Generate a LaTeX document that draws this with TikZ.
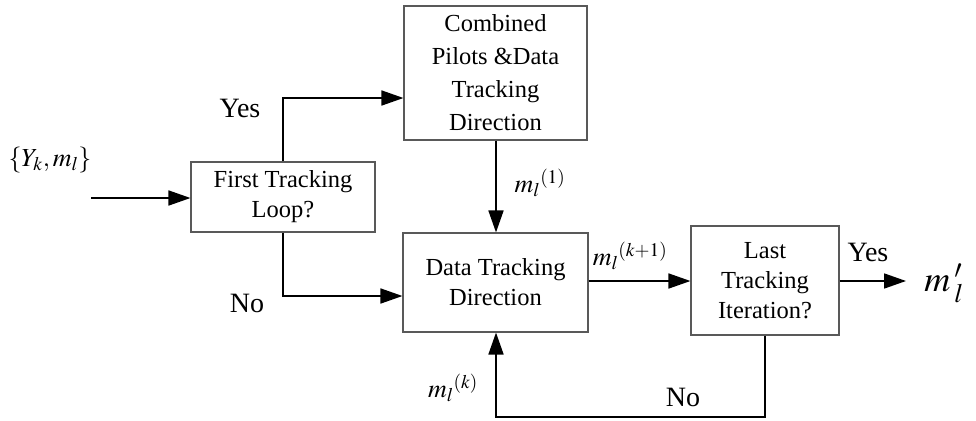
\documentclass[tikz,border=0pt]{standalone}
\usepackage{mathptmx}
\usepackage{fontspec}
\setmainfont{Liberation Serif}
\usetikzlibrary{arrows.meta}
\begin{document}
\begin{tikzpicture}[x=1pt,y=-1pt,
  blk/.style={draw=black!65,line width=1.1pt,inner sep=0pt,align=center,
    font=\fontsize{24.5}{30}\selectfont},
  conn/.style={line width=1.7pt,-{Triangle[length=22pt,width=15pt]}},
  lbl/.style={inner sep=0pt,font=\fontsize{28}{32}\selectfont},
  mlbl/.style={inner sep=0pt,font=\fontsize{26}{30}\selectfont}]
\useasboundingbox (0,0) rectangle (976,420);
\node[blk,minimum width=183pt,minimum height=134pt,font=\fontsize{24.5}{33}\selectfont] (comb) at (495.5,73)
  {Combined\\Pilots \&Data\\Tracking\\Direction};
\node[blk,minimum width=184pt,minimum height=70pt] (first) at (283,197) {First Tracking\\Loop?};
\node[blk,minimum width=185pt,minimum height=99pt] (data) at (495.5,282.5) {Data Tracking\\Direction};
\node[blk,minimum width=148pt,minimum height=109pt] (last) at (765,280.5) {Last\\Tracking\\Iteration?};
\coordinate (in) at (91,198);
\coordinate (out) at (906,281);
\coordinate (yc) at (283,98);
\coordinate (nc) at (283,296);
\coordinate (b1) at (765,417);
\coordinate (b2) at (496,417);
\draw[conn] (in) -- (in -| first.west);
\draw[conn] (first.north) -- (yc) -- (yc -| comb.west);
\draw[conn] (first.south) -- (nc) -- (nc -| data.west);
\draw[conn] (comb.south -| b2) -- (data.north -| b2);
\draw[conn] (data.east |- out) -- (last.west |- out);
\draw[conn] (last.east |- out) -- (out);
\draw[conn] (last.south -| b1) -- (b1) -- (b2) -- (data.south -| b2);
\node[mlbl] (yin) at (50,160) {$\{Y_k,m_l\}$};
\node[lbl] (yes1) at (240,108) {Yes};
\node[lbl] (no1) at (247,303) {No};
\node[mlbl] (m1) at (540,183) {${m_l}^{(1)}$};
\node[mlbl] (mk1) at (630,256) {${m_l}^{(k+1)}$};
\node[lbl] (yes2) at (868,252) {Yes};
\node[inner sep=0pt,font=\fontsize{36}{40}\selectfont] (mout) at (944,283) {$m\,'_{l}$};
\node[lbl] (no2) at (683,397) {No};
\node[mlbl] (mk) at (453,388) {${m_l}^{(k)}$};
\end{tikzpicture}
\end{document}
